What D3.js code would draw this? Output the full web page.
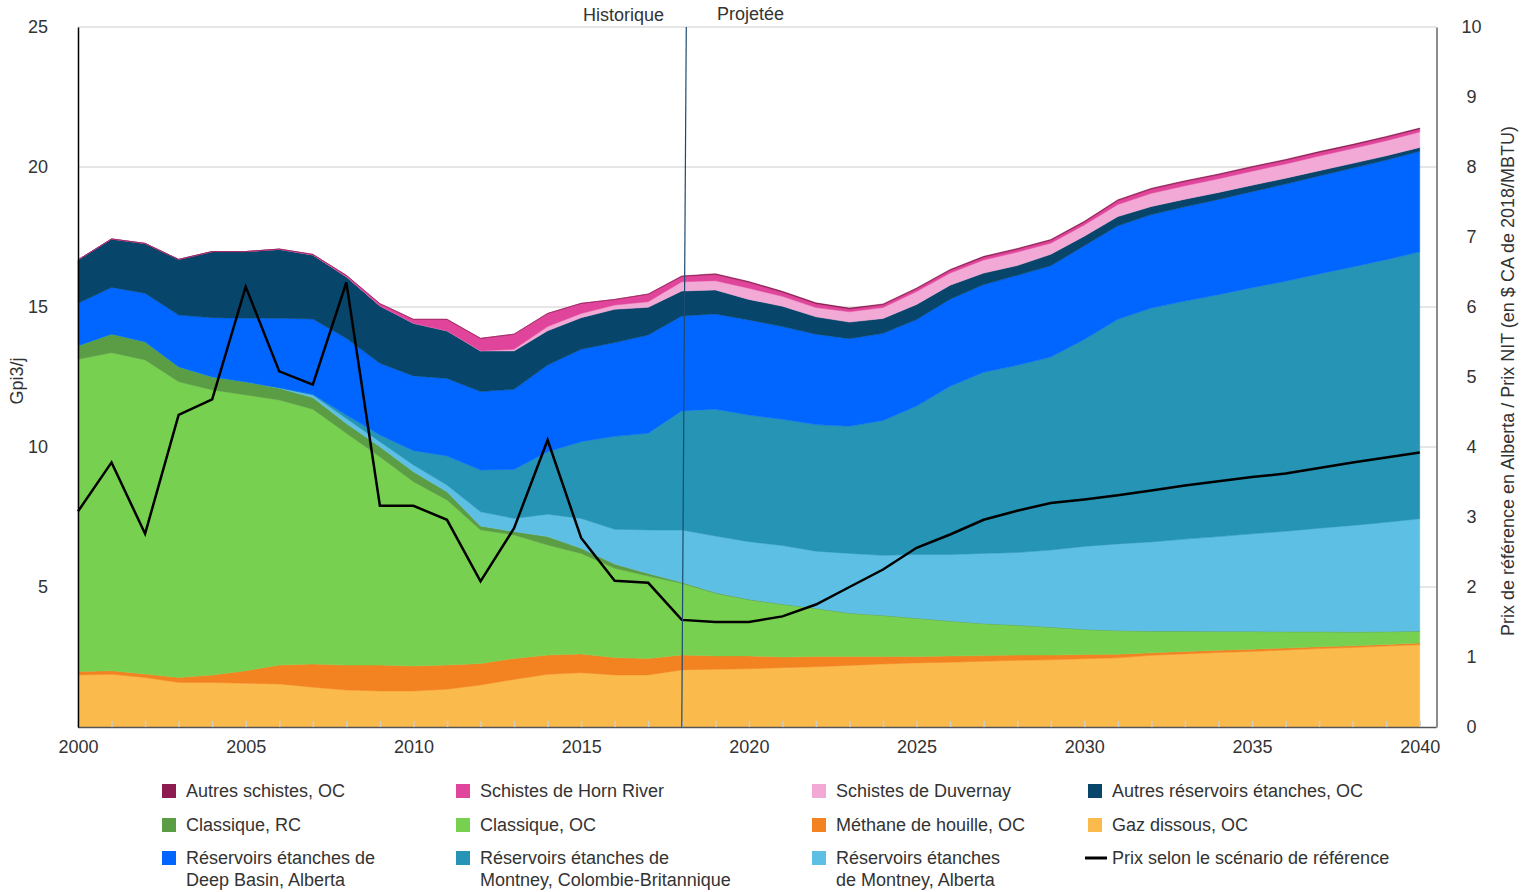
<!DOCTYPE html>
<html>
<head>
<meta charset="utf-8">
<script src="https://cdn.jsdelivr.net/npm/d3@7"></script>
<style>
  body { margin: 0; background: #fff; }
  text { font-family: "Liberation Sans", Arial, sans-serif; fill: #333; }
</style>
</head>
<body>
<div id="chart"></div>
<script>
// years 2000 - 2040
var years = [2000,2001,2002,2003,2004,2005,2006,2007,2008,2009,
             2010,2011,2012,2013,2014,2015,2016,2017,2018,2019,
             2020,2021,2022,2023,2024,2025,2026,2027,2028,2029,
             2030,2031,2032,2033,2034,2035,2036,2037,2038,2039,2040];

// production by source, Gpi3/j (stack order bottom -> top)
var gazDissous   = [1.86,1.88,1.77,1.59,1.59,1.56,1.54,1.42,1.32,1.29,1.29,1.35,1.50,1.70,1.88,1.94,1.86,1.86,2.04,2.06,
                    2.08,2.12,2.15,2.20,2.25,2.29,2.31,2.35,2.38,2.40,2.44,2.47,2.56,2.61,2.66,2.70,2.75,2.80,2.84,2.89,2.94];
var methane      = [0.12,0.13,0.12,0.18,0.27,0.45,0.67,0.83,0.89,0.92,0.89,0.86,0.77,0.75,0.69,0.67,0.62,0.59,0.53,0.48,
                    0.46,0.38,0.37,0.32,0.27,0.23,0.23,0.20,0.19,0.17,0.15,0.13,0.09,0.09,0.08,0.08,0.07,0.07,0.06,0.06,0.06];
var classiqueOC  = [11.15,11.36,11.22,10.56,10.18,9.85,9.47,9.10,8.28,7.44,6.58,5.90,4.77,4.41,3.93,3.59,3.19,2.94,2.56,2.24,
                    2.00,1.88,1.71,1.54,1.46,1.36,1.24,1.14,1.06,0.99,0.89,0.84,0.77,0.72,0.67,0.63,0.58,0.53,0.49,0.45,0.42];
var classiqueRC  = [0.49,0.67,0.65,0.54,0.47,0.47,0.42,0.42,0.35,0.36,0.36,0.29,0.14,0.12,0.30,0.18,0.15,0.09,0.04,0.02,
                    0.02,0.01,0.01,0.01,0.01,0.01,0.01,0.01,0.01,0.01,0.01,0.01,0.01,0.01,0.01,0.01,0.01,0.01,0.01,0.01,0.01];
var montneyAB    = [0,0,0,0,0,0,0.02,0.09,0.18,0.18,0.24,0.24,0.51,0.47,0.80,1.07,1.24,1.56,1.87,2.02,
                    2.06,2.09,2.04,2.13,2.14,2.27,2.37,2.50,2.59,2.75,2.96,3.09,3.18,3.28,3.38,3.48,3.58,3.69,3.80,3.90,4.01];
var montneyBC    = [0,0,0,0,0,0,0,0.02,0.12,0.24,0.51,1.04,1.49,1.75,2.23,2.74,3.32,3.45,4.25,4.53,
                    4.52,4.51,4.52,4.54,4.82,5.30,6.01,6.47,6.69,6.89,7.39,8.02,8.35,8.50,8.64,8.79,8.93,9.08,9.23,9.38,9.53];
var deepBasin    = [1.51,1.66,1.73,1.84,2.11,2.27,2.48,2.69,2.74,2.56,2.67,2.77,2.80,2.86,3.10,3.30,3.35,3.51,3.39,3.40,
                    3.40,3.31,3.23,3.13,3.11,3.09,3.11,3.13,3.21,3.26,3.35,3.34,3.34,3.37,3.40,3.43,3.47,3.50,3.53,3.56,3.59];
var autresRE     = [1.55,1.73,1.78,1.99,2.36,2.38,2.46,2.29,2.20,2.05,1.88,1.70,1.45,1.37,1.22,1.13,1.19,0.99,0.89,0.86,
                    0.73,0.73,0.62,0.59,0.53,0.54,0.50,0.41,0.35,0.41,0.34,0.33,0.29,0.27,0.25,0.23,0.21,0.19,0.17,0.15,0.14];
var duvernay     = [0,0,0,0,0,0,0,0,0,0,0,0,0.01,0.06,0.15,0.15,0.15,0.20,0.33,0.33,
                    0.40,0.35,0.33,0.37,0.39,0.46,0.43,0.47,0.48,0.40,0.40,0.43,0.47,0.48,0.49,0.50,0.51,0.52,0.53,0.54,0.55];
var hornRiver    = [0,0,0,0,0,0,0.01,0.02,0.05,0.08,0.14,0.41,0.44,0.54,0.47,0.36,0.20,0.27,0.19,0.22,
                    0.21,0.15,0.14,0.10,0.10,0.10,0.10,0.10,0.10,0.10,0.10,0.14,0.15,0.15,0.14,0.14,0.13,0.13,0.12,0.12,0.11];
var autresSchistes = [0,0,0,0,0,0,0,0,0,0,0,0,0,0,0,0,0,0,0.02,0.03,
                    0.03,0.03,0.03,0.03,0.03,0.03,0.03,0.03,0.03,0.03,0.03,0.03,0.03,0.03,0.03,0.03,0.03,0.03,0.03,0.03,0.03];

// reference price, $ CA 2018/MBTU (right axis)
var prix = [3.08,3.78,2.76,4.46,4.68,6.29,5.08,4.89,6.35,3.16,3.16,2.96,2.08,2.84,4.10,2.70,2.09,2.06,1.53,1.50,
            1.50,1.58,1.75,2.00,2.25,2.56,2.75,2.96,3.09,3.20,3.25,3.31,3.38,3.45,3.51,3.57,3.62,3.70,3.78,3.85,3.92];

var leftTicks = [5,10,15,20,25];
var rightTicks = [0,1,2,3,4,5,6,7,8,9,10];
var xLabels = [2000,2005,2010,2015,2020,2025,2030,2035,2040];

var series = [
  {key: "gaz",   name: "Gaz dissous, OC", values: gazDissous, color: "#fbbb4c"},
  {key: "meth",  name: "Méthane de houille, OC", values: methane, color: "#f38321"},
  {key: "clOC",  name: "Classique, OC", values: classiqueOC, color: "#78d050"},
  {key: "clRC",  name: "Classique, RC", values: classiqueRC, color: "#5b9d45"},
  {key: "mAB",   name: "Réservoirs étanches\nde Montney, Alberta", values: montneyAB, color: "#5dbfe3"},
  {key: "mBC",   name: "Réservoirs étanches de\nMontney, Colombie-Britannique", values: montneyBC, color: "#2594b5"},
  {key: "db",    name: "Réservoirs étanches de\nDeep Basin, Alberta", values: deepBasin, color: "#0066ff"},
  {key: "are",   name: "Autres réservoirs étanches, OC", values: autresRE, color: "#08456a"},
  {key: "duv",   name: "Schistes de Duvernay", values: duvernay, color: "#f2a9d5"},
  {key: "horn",  name: "Schistes de Horn River", values: hornRiver, color: "#e0449b"},
  {key: "as",    name: "Autres schistes, OC", values: autresSchistes, color: "#8c1b50"}
];

var W = 1530, H = 892;
var FS = "18px";
var svg = d3.select("#chart").append("svg").attr("width", W).attr("height", H);

var x = d3.scaleLinear().domain([2000, 2040.5]).range([78, 1436.5]);
var yL = d3.scaleLinear().domain([0, 25]).range([727, 27]);
var yR = d3.scaleLinear().domain([0, 10]).range([727, 27]);

// gridlines
svg.append("g").selectAll("line").data(leftTicks).enter().append("line")
  .attr("x1", 78).attr("x2", 1436.5)
  .attr("y1", function(d){ return yL(d); }).attr("y2", function(d){ return yL(d); })
  .style("stroke", "#e6e6e6").style("stroke-width", 2);

// stacked areas
var table = years.map(function(yr, i){
  var row = {year: yr};
  series.forEach(function(s){ row[s.key] = s.values[i]; });
  return row;
});
var stack = d3.stack().keys(series.map(function(s){ return s.key; }));
var layers = stack(table);
var area = d3.area()
  .x(function(d){ return x(d.data.year); })
  .y0(function(d){ return yL(d[0]); })
  .y1(function(d){ return yL(d[1]); });
svg.append("g").selectAll("path").data(layers).enter().append("path")
  .attr("d", area)
  .style("fill", function(d, i){ return series[i].color; })
  .style("stroke", function(d, i){ return series[i].color; })
  .style("stroke-width", 0.5);

// x axis with yearly inner ticks
var xAxis = d3.axisBottom(x).tickValues(years).tickSizeInner(-6).tickSizeOuter(0).tickPadding(13)
  .tickFormat(function(d){ return xLabels.indexOf(d) >= 0 ? d : ""; });
var gx = svg.append("g").attr("transform", "translate(0,727)").call(xAxis);
gx.select(".domain").attr("d", "M78,0.5H1436.5").style("stroke", "#555").style("stroke-width", 1.5);
gx.selectAll(".tick line").style("stroke", "#ccc").style("stroke-width", 1.5);
gx.selectAll(".tick text").style("font-size", FS).style("fill", "#333")
  .style("font-family", "Liberation Sans, Arial, sans-serif");

// left axis
var gy = svg.append("g").attr("transform", "translate(78,0)")
  .call(d3.axisLeft(yL).tickValues(leftTicks).tickSize(0).tickPadding(30));
gy.select(".domain").style("stroke", "#000").style("stroke-width", 1.5);
gy.selectAll(".tick text").style("font-size", FS).style("fill", "#333")
  .style("font-family", "Liberation Sans, Arial, sans-serif");

// right axis
var gr = svg.append("g").attr("transform", "translate(1436.5,0)")
  .call(d3.axisRight(yR).tickValues(rightTicks).tickSize(0).tickPadding(35));
gr.select(".domain").style("stroke", "#666").style("stroke-width", 1.5);
gr.selectAll(".tick text").attr("text-anchor", "middle").style("font-size", FS).style("fill", "#333")
  .style("font-family", "Liberation Sans, Arial, sans-serif");

// price line
var priceLine = d3.line()
  .x(function(d, i){ return x(years[i]); })
  .y(function(d){ return yR(d); });
svg.append("path").datum(prix).attr("d", priceLine)
  .style("fill", "none").style("stroke", "#000").style("stroke-width", 2.5)
  .style("stroke-linejoin", "miter");

// historic / projected divider
svg.append("line")
  .attr("x1", x(2018) + 4.5).attr("y1", 27)
  .attr("x2", x(2018)).attr("y2", 727)
  .style("stroke", "#1d4b72").style("stroke-width", 1.2);
svg.append("text").attr("x", 664).attr("y", 21).attr("text-anchor", "end")
  .style("font-size", FS).text("Historique");
svg.append("text").attr("x", 717).attr("y", 20)
  .style("font-size", FS).text("Projetée");

// axis titles
svg.append("text").attr("transform", "translate(23,381) rotate(-90)").attr("text-anchor", "middle")
  .style("font-size", FS).text("Gpi3/j");
svg.append("text").attr("transform", "translate(1514,381) rotate(-90)").attr("text-anchor", "middle")
  .style("font-size", FS).text("Prix de référence en Alberta / Prix NIT (en $ CA de 2018/MBTU)");

// legend
var legendOrder = ["as", "horn", "duv", "are", "clRC", "clOC", "meth", "gaz", "db", "mBC", "mAB", "prix"];
var colX = [162, 456, 812, 1088];
var rowY = [791, 825, 858];
var lg = svg.append("g");
legendOrder.forEach(function(k, i){
  var cx = colX[i % 4], cy = rowY[Math.floor(i / 4)];
  var s = series.filter(function(d){ return d.key === k; })[0];
  var label;
  if (s) {
    lg.append("rect").attr("x", cx).attr("y", cy - 7).attr("width", 14).attr("height", 14)
      .style("fill", s.color);
    label = s.name;
  } else {
    lg.append("line").attr("x1", cx - 3).attr("x2", cx + 19).attr("y1", cy).attr("y2", cy)
      .style("stroke", "#000").style("stroke-width", 3);
    label = "Prix selon le scénario de référence";
  }
  var t = lg.append("text").attr("x", cx + 24).attr("y", cy + 6).style("font-size", FS);
  label.split("\n").forEach(function(part, j){
    t.append("tspan").attr("x", cx + 24).attr("dy", j === 0 ? 0 : 22).text(part);
  });
});
</script>
</body>
</html>
